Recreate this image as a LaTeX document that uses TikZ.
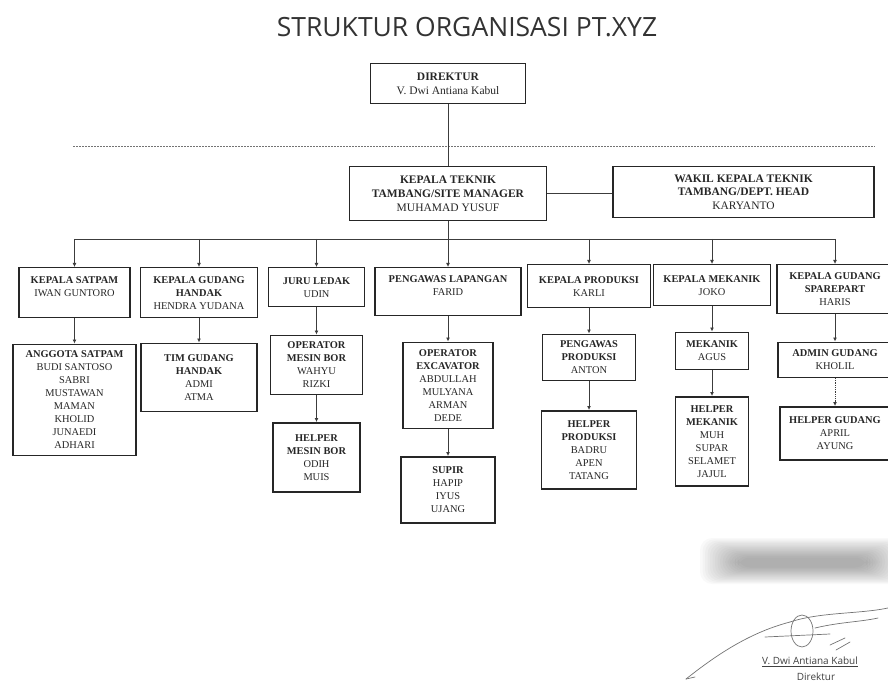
\documentclass[tikz,border=0pt]{standalone}
\usepackage{fontspec}
\setmainfont{Liberation Serif}
\newfontfamily\judulfont{Open Sans}
\usetikzlibrary{arrows.meta, positioning}

\definecolor{garisabu}{RGB}{60, 60, 60}

\tikzset{
  kotak/.style={draw=black!85, line width=1.5pt, align=center, inner sep=3pt, anchor=north,
    text=black!85, font=\fontsize{10.4}{13}\selectfont},
  kotakatas/.style={kotak, font=\fontsize{11.5}{13.8}\selectfont},
  panah/.style={draw=garisabu, line width=0.8pt, -{Latex[length=4pt,width=4pt]}},
  garis/.style={draw=garisabu, line width=0.8pt},
  putus/.style={draw=black!55, line width=0.7pt, dash pattern=on 2pt off 1pt},
  tandatangan/.style={draw=black!55, line width=0.7pt, line cap=round}
}

\begin{document}
\begin{tikzpicture}[x=1pt, y=-1pt]
  \useasboundingbox (0,0) rectangle (888,684);

  % judul
  \node[font=\judulfont\fontsize{26.5}{26.5}\selectfont, text=black!80] (judul) at (467,27) {STRUKTUR ORGANISASI PT.XYZ};

  % pimpinan
  \node[kotakatas, minimum width=155pt, minimum height=40pt] (direktur) at (448,63) {\textbf{DIREKTUR}\\V. Dwi Antiana Kabul};
  \coordinate (putusL) at (73,146);
  \coordinate (putusR) at (875,146);
  \draw[putus] (putusL) -- (putusR);
  \node[kotakatas, minimum width=197pt, minimum height=54pt] (kt) at (448,166) {\textbf{KEPALA TEKNIK}\\\textbf{TAMBANG/SITE MANAGER}\\MUHAMAD YUSUF};
  \node[kotakatas, minimum width=261pt, minimum height=51pt] (wakil) at (743.5,166) {\textbf{WAKIL KEPALA TEKNIK}\\\textbf{TAMBANG/DEPT. HEAD}\\KARYANTO};
  \draw[garis] (direktur.south) -- (kt.north);
  \draw[garis] (kt.east) -- (kt.east -| wakil.west);

  % kepala bagian
  \coordinate (bus) at (0,239);
  \node[kotak, minimum width=111pt, minimum height=50pt] (satpam) at (74.5,267) {\textbf{KEPALA SATPAM}\\IWAN GUNTORO\\~};
  \node[kotak, minimum width=117pt, minimum height=50pt] (gudang) at (199,267) {\textbf{KEPALA GUDANG}\\\textbf{HANDAK}\\HENDRA YUDANA};
  \node[kotak, minimum width=96pt, minimum height=39pt] (juruledak) at (316.5,267) {\textbf{JURU LEDAK}\\UDIN};
  \node[kotak, minimum width=146pt, minimum height=48pt] (pengawas) at (448,267) {\textbf{PENGAWAS LAPANGAN}\\FARID\\~};
  \node[kotak, minimum width=123pt, minimum height=43pt] (produksi) at (589,264) {\textbf{KEPALA PRODUKSI}\\KARLI};
  \node[kotak, minimum width=117pt, minimum height=41pt] (kmekanik) at (712,264) {\textbf{KEPALA MEKANIK}\\JOKO};
  \node[kotak, minimum width=116pt, minimum height=49pt] (sparepart) at (835,264) {\textbf{KEPALA GUDANG}\\\textbf{SPAREPART}\\HARIS};

  \draw[garis] (kt.south) -- (kt.south |- bus);
  \draw[garis] (satpam.north |- bus) -- (sparepart.north |- bus);
  \foreach \k in {satpam, gudang, juruledak, pengawas, produksi, kmekanik, sparepart}
    \draw[panah] (\k.north |- bus) -- (\k.north);

  % anggota
  \node[kotak, minimum width=123pt, minimum height=111pt, below=25pt of satpam] (anggota) {\textbf{ANGGOTA SATPAM}\\BUDI SANTOSO\\SABRI\\MUSTAWAN\\MAMAN\\KHOLID\\JUNAEDI\\ADHARI};
  \node[kotak, minimum width=116pt, minimum height=68pt, below=24pt of gudang] (timgudang) {\textbf{TIM GUDANG}\\\textbf{HANDAK}\\ADMI\\ATMA};
  \node[kotak, minimum width=92pt, minimum height=59pt, below=27pt of juruledak] (opbor) {\textbf{OPERATOR}\\\textbf{MESIN BOR}\\WAHYU\\RIZKI};
  \node[kotak, minimum width=87pt, minimum height=69pt, below=27pt of opbor] (helperbor) {\textbf{HELPER}\\\textbf{MESIN BOR}\\ODIH\\MUIS};
  \node[kotak, minimum width=90pt, minimum height=86pt, below=25pt of pengawas] (opexc) {\textbf{OPERATOR}\\\textbf{EXCAVATOR}\\ABDULLAH\\MULYANA\\ARMAN\\DEDE};
  \node[kotak, minimum width=94pt, minimum height=66pt, below=27pt of opexc] (supir) {\textbf{SUPIR}\\HAPIP\\IYUS\\UJANG};
  \node[kotak, minimum width=93pt, minimum height=46pt, below=25pt of produksi] (pgprod) {\textbf{PENGAWAS}\\\textbf{PRODUKSI}\\ANTON};
  \node[kotak, minimum width=95pt, minimum height=78pt, below=29pt of pgprod] (helperprod) {\textbf{HELPER}\\\textbf{PRODUKSI}\\BADRU\\APEN\\TATANG};
  \node[kotak, minimum width=73pt, minimum height=37pt, below=25pt of kmekanik] (mekanik) {\textbf{MEKANIK}\\AGUS};
  \node[kotak, minimum width=73pt, minimum height=89pt, below=26pt of mekanik] (helpermek) {\textbf{HELPER}\\\textbf{MEKANIK}\\MUH\\SUPAR\\SELAMET\\JAJUL};
  \node[kotak, minimum width=114pt, minimum height=35pt, below=27pt of sparepart] (admingudang) {\textbf{ADMIN GUDANG}\\KHOLIL};
  \node[kotak, minimum width=110pt, minimum height=53pt, below=28pt of admingudang] (helpergudang) {\textbf{HELPER GUDANG}\\APRIL\\AYUNG};

  \foreach \a/\b in {satpam/anggota, gudang/timgudang, juruledak/opbor, opbor/helperbor,
                     pengawas/opexc, opexc/supir, produksi/pgprod, pgprod/helperprod,
                     kmekanik/mekanik, mekanik/helpermek, sparepart/admingudang}
    \draw[panah] (\a) -- (\b);
  \draw[panah, densely dotted] (admingudang) -- (helpergudang);

  % stempel yang dikaburkan
  \foreach \i in {0,...,15}
    \fill[black, opacity=0.025, rounded corners=12pt] ({700+\i*2.5},{538+\i*1.3}) rectangle ({905-\i*2.5},{584-\i*1.1});

  % tanda tangan
  \draw[tandatangan] (686,679) .. controls (720,652) and (752,632) .. (790,622);
  \draw[tandatangan] (686,679) -- (695,677);
  \draw[tandatangan] (802,631) ellipse (11 and 16);
  \draw[tandatangan] (765,637) -- (830,634);
  \draw[tandatangan] (790,622) .. controls (820,612) and (860,614) .. (888,608);
  \draw[tandatangan] (815,628) .. controls (840,622) and (860,622) .. (878,618);
  \draw[tandatangan] (830,645) -- (845,638);
  \draw[tandatangan] (836,650) -- (850,642);
  \node[font=\judulfont\fontsize{10}{12}\selectfont, text=black!75] (ttdnama) at (810,662) {\underline{V. Dwi Antiana Kabul}};
  \node[font=\judulfont\fontsize{10}{12}\selectfont, text=black!75] (ttdjabatan) at (816,677) {Direktur};
\end{tikzpicture}
\end{document}
